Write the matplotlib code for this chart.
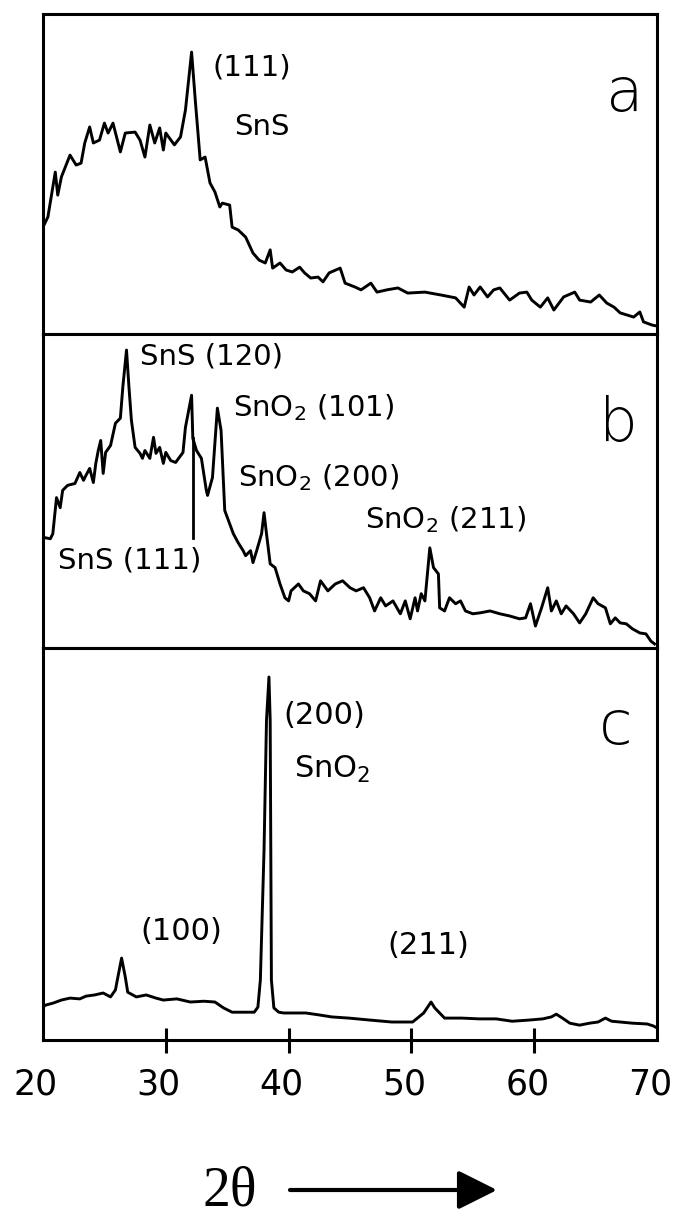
import matplotlib
matplotlib.use('Agg')
import matplotlib.pyplot as plt
import matplotlib.transforms as mtransforms
import numpy as np

# XRD patterns, 2-theta (deg) vs intensity (arb. units, 0-100 per panel)
a_theta = [20.0, 20.4, 21.0, 21.2, 21.5, 22.2, 22.7, 23.1, 23.4, 23.8, 24.1, 24.6, 25.0, 25.3, 25.7,
           26.3, 26.7, 27.5, 27.9, 28.3, 28.7, 29.1, 29.5, 29.8, 30.0, 30.7, 31.2, 31.6, 32.1, 32.4,
           32.8, 33.2, 33.6, 34.0, 34.4, 34.6, 35.2, 35.4, 35.9, 36.5, 37.1, 37.6, 38.1, 38.5, 38.7,
           39.3, 39.8, 40.3, 40.9, 41.3, 41.8, 42.4, 42.8, 43.3, 44.2, 44.6, 45.4, 45.9, 46.7, 47.2,
           48.0, 48.9, 49.7, 51.1, 52.4, 53.6, 54.3, 54.7, 55.1, 55.6, 56.2, 56.7, 57.2, 58.0, 58.8,
           59.4, 59.8, 60.5, 61.1, 61.6, 62.4, 63.3, 63.7, 64.6, 65.3, 65.9, 66.5, 67.0, 67.6, 68.1,
           68.6, 68.9, 69.6, 70.0]
a_int = [33.4, 36.6, 50.6, 43.4, 49.1, 55.9, 52.8, 53.4, 59.7, 64.7, 59.7, 60.6, 65.9, 62.8, 65.9,
         56.9, 62.8, 63.1, 60.6, 55.3, 65.3, 59.7, 64.4, 57.5, 62.8, 59.1, 61.6, 70.0, 88.1, 73.1,
         54.4, 55.3, 47.2, 44.4, 39.7, 40.9, 40.3, 33.4, 32.5, 30.3, 25.3, 23.1, 22.2, 26.3, 20.6,
         22.2, 20.0, 19.4, 20.9, 19.1, 17.5, 17.8, 16.3, 19.1, 20.6, 15.9, 14.7, 13.8, 15.9, 13.1,
         13.8, 14.4, 12.8, 13.1, 12.2, 11.3, 8.4, 14.7, 12.2, 14.7, 11.6, 13.8, 14.4, 10.6, 12.8,
         13.1, 10.6, 8.4, 11.3, 7.5, 11.6, 13.1, 10.6, 10.0, 12.2, 9.7, 8.4, 6.6, 5.9, 5.3,
         6.9, 3.8, 2.8, 2.5]

b_theta = [20.2, 20.6, 20.8, 21.1, 21.4, 21.6, 22.0, 22.6, 23.0, 23.3, 23.5, 23.8, 24.1, 24.3, 24.5,
           24.7, 24.9, 25.1, 25.5, 25.9, 26.3, 26.5, 26.8, 27.0, 27.2, 27.5, 27.9, 28.1, 28.3, 28.7,
           29.0, 29.2, 29.5, 29.8, 30.0, 30.4, 30.8, 31.4, 31.6, 32.1, 32.2, 32.5, 32.9, 33.3, 33.4,
           33.8, 34.2, 34.5, 34.8, 35.1, 35.5, 35.9, 36.3, 36.5, 36.9, 37.1, 37.4, 37.8, 38.0, 38.2,
           38.5, 38.9, 39.3, 39.7, 40.0, 40.2, 40.8, 41.2, 41.7, 42.2, 42.6, 43.2, 43.8, 44.4, 45.0,
           45.5, 46.1, 46.6, 47.0, 47.5, 47.9, 48.5, 49.1, 49.5, 49.9, 50.3, 50.5, 50.8, 51.1, 51.5,
           51.8, 52.2, 52.3, 52.7, 53.1, 53.6, 54.0, 54.4, 55.0, 55.6, 56.4, 57.2, 58.0, 58.8, 59.3,
           59.7, 60.1, 60.6, 61.1, 61.4, 61.8, 62.2, 62.6, 63.2, 63.7, 64.2, 64.8, 65.2, 65.8, 66.2,
           66.6, 67.0, 67.5, 68.0, 68.6, 69.1, 69.5, 69.8]
b_int = [35.1, 34.8, 36.4, 47.9, 44.7, 50.2, 51.8, 52.4, 55.9, 53.4, 55.0, 57.2, 52.7, 58.8, 62.9,
         66.1, 55.6, 62.3, 64.5, 71.6, 73.2, 83.1, 94.9, 83.1, 72.5, 63.9, 62.0, 60.4, 62.9, 60.4,
         67.1, 62.0, 63.9, 58.8, 62.3, 59.7, 59.1, 62.3, 70.3, 80.5, 66.8, 62.9, 60.4, 50.2, 48.6,
         54.3, 76.4, 69.3, 43.8, 40.6, 36.4, 33.5, 31.0, 29.4, 31.0, 27.2, 31.0, 36.4, 43.1, 36.4,
         26.8, 25.6, 20.4, 16.0, 15.0, 18.2, 20.4, 18.2, 17.3, 15.0, 21.4, 18.2, 20.4, 21.4, 19.2,
         18.2, 19.2, 16.0, 11.8, 16.0, 13.4, 15.0, 10.9, 15.0, 9.3, 16.0, 11.8, 17.3, 15.0, 31.9,
         25.6, 23.6, 12.8, 11.8, 16.0, 14.1, 15.0, 11.8, 10.9, 11.2, 11.8, 10.9, 10.2, 9.3, 9.6,
         14.1, 7.0, 12.8, 19.2, 11.8, 15.0, 10.9, 13.4, 10.9, 8.0, 10.9, 16.0, 14.1, 12.8, 7.7,
         9.6, 8.0, 7.7, 6.1, 4.8, 4.5, 2.2, 1.3]

c_theta = [20.0, 20.2, 20.8, 21.5, 22.2, 23.0, 23.5, 24.2, 24.9, 25.5, 25.9, 26.1, 26.4, 26.7, 26.9,
           27.6, 28.4, 29.2, 29.8, 30.9, 32.0, 33.1, 34.0, 34.7, 35.4, 36.4, 37.2, 37.5, 37.7, 38.0,
           38.2, 38.4, 38.5, 38.55, 38.6, 38.8, 39.2, 39.6, 41.4, 42.5, 43.5, 44.9, 46.6, 48.4, 50.1,
           51.0, 51.6, 51.9, 52.7, 54.1, 55.5, 56.9, 58.2, 59.6, 60.7, 61.4, 61.8, 62.3, 62.9, 63.7,
           64.5, 65.2, 65.8, 66.3, 67.0, 68.0, 69.2, 69.7, 70.0]
c_int = [8.4, 8.9, 9.4, 10.2, 10.7, 10.5, 11.2, 11.5, 12.0, 11.0, 12.8, 16.1, 20.9, 16.1, 12.2,
         11.0, 11.5, 10.7, 10.2, 10.5, 9.7, 9.9, 9.7, 8.2, 7.1, 7.1, 7.1, 8.4, 15.3, 48.5,
         81.6, 92.6, 81.6, 48.5, 15.3, 8.2, 7.1, 6.9, 6.9, 6.4, 5.9, 5.6, 5.1, 4.6, 4.6,
         6.9, 9.7, 8.2, 5.6, 5.6, 5.4, 5.4, 4.8, 5.1, 5.4, 5.9, 6.6, 5.6, 4.3, 3.8,
         4.3, 4.6, 5.6, 4.8, 4.6, 4.3, 4.1, 3.6, 3.1]

x_ticks = [20, 30, 40, 50, 60, 70]

# SnS (111) marker in pattern b
sns111_theta = 32.2
sns111_span = [35.0, 66.8]

plt.rcParams['font.family'] = ['DejaVu Sans']

fig = plt.figure(figsize=(6.75, 12.16), dpi=100)
left = 43 / 675
width = 614 / 675
ax_a = fig.add_axes([left, 0.7253, width, 0.2632])
ax_b = fig.add_axes([left, 0.4671, width, 0.2582])
ax_c = fig.add_axes([left, 0.1447, width, 0.3224])

for ax, th, it in [(ax_a, a_theta, a_int), (ax_b, b_theta, b_int), (ax_c, c_theta, c_int)]:
    ax.plot(th, it, color='black', lw=2.1, solid_joinstyle='round')
    ax.set_xlim(20, 70)
    ax.set_ylim(0, 100)
    ax.set_yticks([])
    for s in ax.spines.values():
        s.set_linewidth(2.2)

ax_a.set_xticks([])
ax_b.set_xticks([])

ax_b.plot([sns111_theta, sns111_theta], sns111_span, color='black', lw=2.0)

fs = 21
# panel a
ax_a.text(33.8, 83.4, '(111)', fontsize=fs, va='center', ha='left')
ax_a.text(35.6, 64.7, 'SnS', fontsize=fs, va='center', ha='left')
ax_a.text(67.4, 74.7, 'a', fontsize=44, va='center', ha='center', fontweight='light')

# panel b
ax_b.text(27.9, 92.7, 'SnS (120)', fontsize=fs, va='center', ha='left')
ax_b.text(35.5, 76.7, 'SnO$_2$ (101)', fontsize=fs, va='center', ha='left')
ax_b.text(35.9, 54.3, 'SnO$_2$ (200)', fontsize=fs, va='center', ha='left')
ax_b.text(46.2, 40.9, 'SnO$_2$ (211)', fontsize=fs, va='center', ha='left')
ax_b.text(21.2, 27.8, 'SnS (111)', fontsize=fs, va='center', ha='left')
ax_b.text(66.9, 71.2, 'b', fontsize=44, va='center', ha='center', fontweight='light')

# panel c
ax_c.text(31.3, 27.6, '(100)', fontsize=22, va='center', ha='center')
ax_c.text(39.6, 82.7, '(200)', fontsize=22, va='center', ha='left')
ax_c.text(40.4, 68.9, 'SnO$_2$', fontsize=22, va='center', ha='left')
ax_c.text(51.4, 24.0, '(211)', fontsize=22, va='center', ha='center')
ax_c.text(66.6, 79.8, 'c', fontsize=44, va='center', ha='center', fontweight='light')

ax_c.set_xticks(x_ticks)
ax_c.set_xticklabels([str(t) for t in x_ticks], fontsize=25)
ax_c.tick_params(axis='x', direction='inout', length=18, width=2.2, pad=11)
ticks = ax_c.xaxis.get_major_ticks()
ticks[0].tick1line.set_visible(False)
ticks[-1].tick1line.set_visible(False)
# labels sit a little left of their ticks in the original
shift = mtransforms.ScaledTranslation(-7 / 100, 0, fig.dpi_scale_trans)
for lab in ax_c.get_xticklabels():
    lab.set_transform(lab.get_transform() + shift)

fig.text(230 / 675, 1 - 1192 / 1216, '2\u03b8', fontsize=40, family='Liberation Serif',
         ha='center', va='center')
fig.add_artist(matplotlib.patches.FancyArrowPatch(
    (290 / 675, 1 - 1190 / 1216), (497 / 675, 1 - 1190 / 1216),
    transform=fig.transFigure, arrowstyle='-|>,head_length=0.4,head_width=0.2',
    mutation_scale=60, lw=3, color='black', shrinkA=0, shrinkB=0))

fig.savefig('out.png', dpi=100)
